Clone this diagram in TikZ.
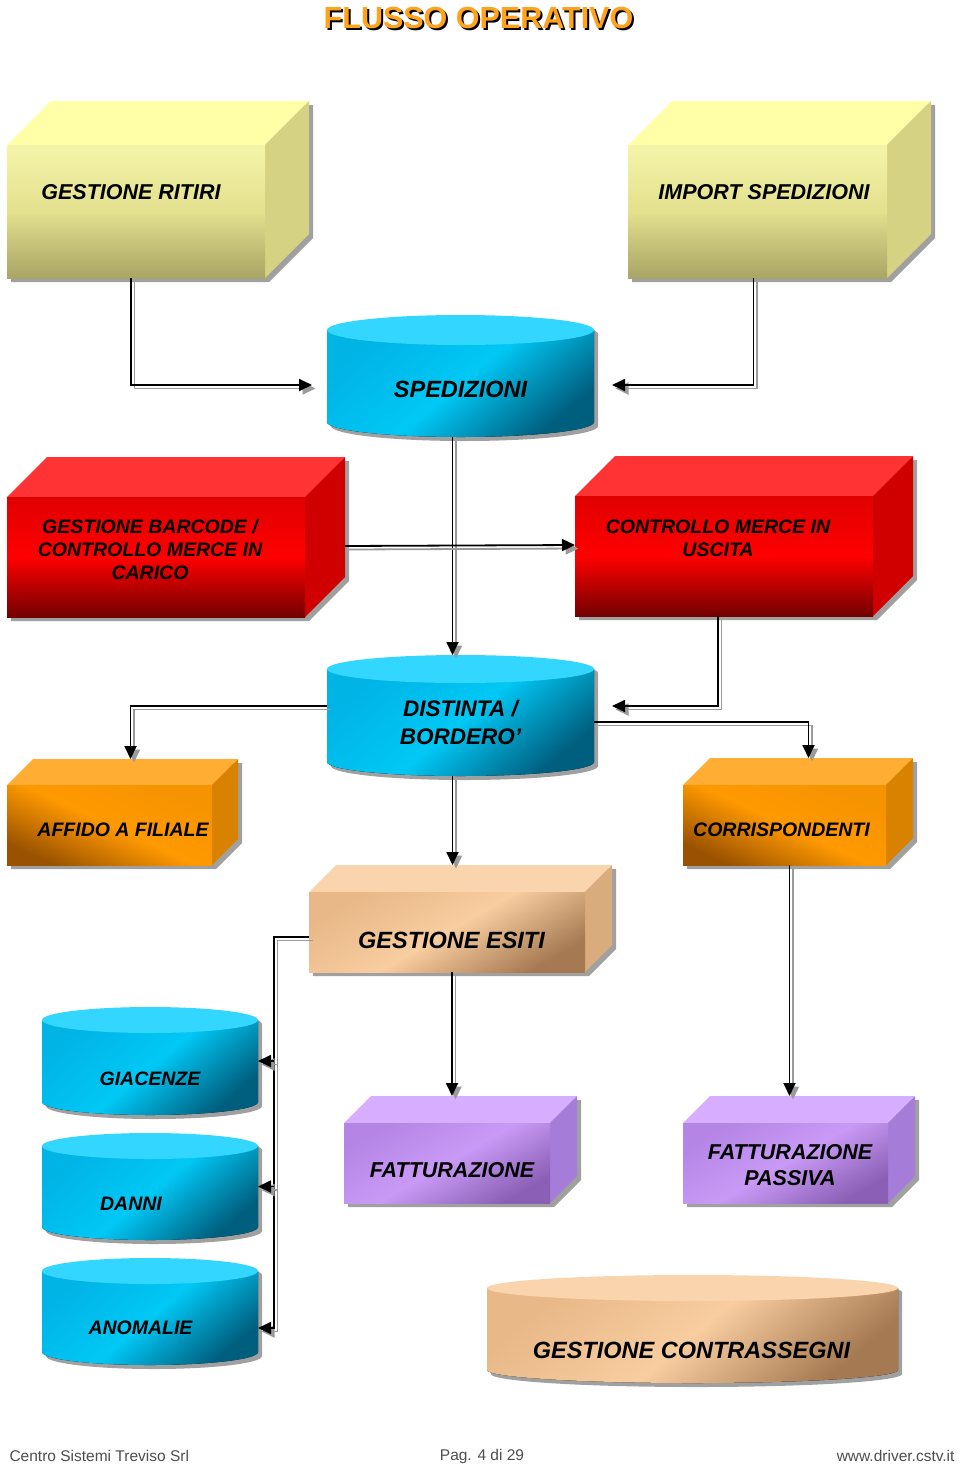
\documentclass[tikz,border=0pt]{standalone}
\usepackage{fontspec}
\setmainfont{Liberation Sans}
\usetikzlibrary{arrows.meta, backgrounds, calc}

\definecolor{yellowtop}{HTML}{FFFFA8}
\definecolor{yellowside}{HTML}{D6D283}
\definecolor{yellowfa}{HTML}{F5F5AA}
\definecolor{yellowfb}{HTML}{E3E08E}
\definecolor{yellowfc}{HTML}{A9A565}
\definecolor{redtop}{HTML}{FF3333}
\definecolor{redside}{HTML}{D00000}
\definecolor{redfa}{HTML}{E00000}
\definecolor{redfb}{HTML}{FF0000}
\definecolor{redfc}{HTML}{720000}
\definecolor{orangetop}{HTML}{FFAD33}
\definecolor{orangeside}{HTML}{D98200}
\definecolor{orangefa}{HTML}{F59300}
\definecolor{orangefb}{HTML}{FF9900}
\definecolor{orangefc}{HTML}{9A5200}
\definecolor{tantop}{HTML}{FAD4AC}
\definecolor{tanside}{HTML}{D9AC7E}
\definecolor{tanfa}{HTML}{E8B888}
\definecolor{tanfb}{HTML}{F8CDA0}
\definecolor{tanfc}{HTML}{A57A52}
\definecolor{violettop}{HTML}{D6ADFF}
\definecolor{violetside}{HTML}{A57DD8}
\definecolor{violetfa}{HTML}{B585E6}
\definecolor{violetfb}{HTML}{C99AF5}
\definecolor{violetfc}{HTML}{8A5FB5}
\definecolor{bluetop}{HTML}{33D6FF}
\definecolor{bluefa}{HTML}{00B4E6}
\definecolor{bluefb}{HTML}{00C8F5}
\definecolor{bluefc}{HTML}{005E7E}
\definecolor{shadowgrey}{HTML}{A0A0A0}
\definecolor{linkgrey}{HTML}{9A9A9A}
\definecolor{titleorange}{HTML}{FFA31A}
\definecolor{footgrey}{HTML}{4D4D4D}

\tikzset{
  block/.style={inner sep=0pt, outer sep=0pt},
  drum/.style={inner sep=0pt, outer sep=0pt},
  yellowfront/.style={top color=yellowfa, bottom color=yellowfc, middle color=yellowfb},
  redfront/.style={top color=redfa, bottom color=redfc, middle color=redfb},
  orangefront/.style={top color=orangefa, bottom color=orangefc, middle color=orangefb, shading angle=-25},
  tanfront/.style={top color=tanfa, bottom color=tanfc, middle color=tanfb, shading angle=30},
  violetfront/.style={top color=violetfa, bottom color=violetfc, middle color=violetfb, shading angle=30},
  bluebody/.style={top color=bluefa, bottom color=bluefc, middle color=bluefb, shading angle=40},
  tanbody/.style={top color=tanfa, bottom color=tanfc, middle color=tanfb, shading angle=40},
  bigtext/.style={font=\bfseries\itshape\fontsize{23.5}{28}\selectfont, align=center},
  midtext/.style={font=\bfseries\itshape\fontsize{21.5}{26}\selectfont, align=center},
  smalltext/.style={font=\bfseries\itshape\fontsize{19.5}{23}\selectfont, align=center},
  headline/.style={font=\bfseries\fontsize{30.5}{36}\selectfont},
  foot/.style={font=\fontsize{15.5}{18}\selectfont, text=footgrey},
  link/.style={line width=1.8pt, -{Triangle[length=13pt, width=12pt]},
    preaction={draw=linkgrey, line width=1.8pt, -{Triangle[length=13pt, width=12pt]},
      transform canvas={shift={(3.5pt,-3.5pt)}}}},
}

% top and side of a box behind its front node
\newcommand{\cubeback}[4]{%
  \begin{scope}[on background layer]
    \fill [shadowgrey, transform canvas={shift={(4pt,-4pt)}}] (#1.north west) -- ++(#2, -#2)
      -- ($(#1.north east) + (#2, -#2)$) -- ($(#1.south east) + (#2, -#2)$)
      -- (#1.south east) -- (#1.south west) -- cycle;
    \fill [#3] (#1.north west) -- ++(#2, -#2) -- ($(#1.north east) + (#2, -#2)$) -- (#1.north east) -- cycle;
    \fill [#4] (#1.north east) -- ++(#2, -#2) -- ($(#1.south east) + (#2, -#2)$) -- (#1.south east) -- cycle;
  \end{scope}
  \coordinate (#1-top) at ($(#1.north) + (#2, -#2)$);
}

% drum drawn round its node
\newcommand{\cylback}[5]{%
  \begin{scope}[on background layer]
    \begin{scope}[transform canvas={shift={(4pt,-4pt)}}]
      \fill [shadowgrey] ($(#1.north west) + (0, #3)$) -- ($(#1.south west) + (0, -#3)$)
        arc[start angle=180, end angle=0, x radius=#2, y radius=#3]
        -- ($(#1.north east) + (0, #3)$) -- cycle;
      \fill [shadowgrey] ($(#1.north) + (0, #3)$) ellipse [x radius=#2, y radius=#3];
    \end{scope}
    \fill [#5] ($(#1.north west) + (0, #3)$) -- ($(#1.south west) + (0, -#3)$)
      arc[start angle=180, end angle=0, x radius=#2, y radius=#3]
      -- ($(#1.north east) + (0, #3)$) -- cycle;
    \fill [#4] ($(#1.north) + (0, #3)$) ellipse [x radius=#2, y radius=#3];
  \end{scope}
}

\begin{document}
\begin{tikzpicture}[x=1pt, y=-1pt]
\useasboundingbox (0, 0) rectangle (960, 1468);
%Title
\node [headline, text=black] (title-shadow) at (480.5, 19.5) {FLUSSO OPERATIVO};
\node [headline, text=titleorange] (title) at (478.5, 17.5) {FLUSSO OPERATIVO};

%Boxes
\node [block, yellowfront, minimum width=258, minimum height=133,
  label={[midtext, xshift=-5, yshift=19.5]center:GESTIONE RITIRI}] (ritiri) at (136, 211.5) {};
\cubeback{ritiri}{44}{yellowtop}{yellowside}
\node [block, yellowfront, minimum width=259, minimum height=133,
  label={[midtext, xshift=6.5, yshift=19.5]center:IMPORT SPEDIZIONI}] (import) at (757.5, 211.5) {};
\cubeback{import}{44}{yellowtop}{yellowside}
\node [block, redfront, minimum width=298, minimum height=120,
  label={[smalltext, xshift=-6, yshift=7]center:{GESTIONE BARCODE /\\CONTROLLO MERCE IN\\CARICO}}] (barcode) at (156, 557) {};
\cubeback{barcode}{40}{redtop}{redside}
\node [block, redfront, minimum width=298, minimum height=120,
  label={[smalltext, xshift=-6, yshift=17.5]center:{CONTROLLO MERCE IN\\USCITA}}] (controllo) at (724, 556) {};
\cubeback{controllo}{40}{redtop}{redside}
\node [block, orangefront, minimum width=205, minimum height=80,
  label={[smalltext, xshift=13.5, yshift=-5]center:AFFIDO A FILIALE}] (affido) at (109.5, 825) {};
\cubeback{affido}{26}{orangetop}{orangeside}
\node [block, orangefront, minimum width=203, minimum height=80,
  label={[smalltext, xshift=-3, yshift=-5]center:CORRISPONDENTI}] (corr) at (784.5, 825) {};
\cubeback{corr}{27}{orangetop}{orangeside}
\node [block, tanfront, minimum width=276, minimum height=80,
  label={[bigtext, xshift=4.5, yshift=-8]center:GESTIONE ESITI}] (esiti) at (447, 932) {};
\cubeback{esiti}{27}{tantop}{tanside}
\node [block, violetfront, minimum width=206, minimum height=80,
  label={[midtext, xshift=5, yshift=-7]center:FATTURAZIONE}] (fatt) at (447, 1163) {};
\cubeback{fatt}{27}{violettop}{violetside}
\node [block, violetfront, minimum width=205, minimum height=80,
  label={[midtext, xshift=4.5, yshift=-2]center:{FATTURAZIONE\\PASSIVA}}] (passiva) at (785.5, 1163) {};
\cubeback{passiva}{27}{violettop}{violetside}

%Drums
\node [drum, minimum width=267, minimum height=122,
  label={[bigtext, yshift=-13]center:SPEDIZIONI}] (sped) at (460.5, 376) {};
\cylback{sped}{133.5}{15}{bluetop}{bluebody}
\node [drum, minimum width=267, minimum height=121,
  label={[bigtext, font=\bfseries\itshape\fontsize{22.5}{28}\selectfont, yshift=-6.5]center:{DISTINTA /\\BORDERO’}}] (dist) at (460.5, 715.5) {};
\cylback{dist}{133.5}{14}{bluetop}{bluebody}
\node [drum, minimum width=216, minimum height=108,
  label={[smalltext, yshift=-18]center:GIACENZE}] (giac) at (150, 1061) {};
\cylback{giac}{108}{13}{bluetop}{bluebody}
\node [drum, minimum width=216, minimum height=107,
  label={[smalltext, xshift=-19, yshift=-17.5]center:DANNI}] (danni) at (150, 1186.5) {};
\cylback{danni}{108}{13}{bluetop}{bluebody}
\node [drum, minimum width=216, minimum height=107,
  label={[smalltext, xshift=-9.5, yshift=-16.5]center:ANOMALIE}] (anom) at (150, 1311.5) {};
\cylback{anom}{108}{13}{bluetop}{bluebody}
\node [drum, minimum width=411, minimum height=108,
  label={[bigtext, xshift=-1, yshift=-21]center:GESTIONE CONTRASSEGNI}] (contr) at (692.5, 1329) {};
\cylback{contr}{205.5}{13}{tantop}{tanbody}

%Connectors
\draw [link] ([xshift=-5]ritiri.south) |- ($(sped.west) + (-15, 9)$);
\draw [link] ([xshift=-4]import.south) |- ($(sped.east) + (18, 9)$);
\coordinate (s-out) at ([xshift=-8]sped.south);
\draw [link] (s-out) -- (s-out |- dist.north);
\draw [link] ($(barcode.east) + (40, -11)$) -- ([yshift=11]controllo.west);
\draw [link] ([xshift=-6]controllo.south) |- ($(dist.east) + (18, -9.5)$);
\draw [link] ($(dist.west) + (0, -9.5)$) -| ([xshift=-5]affido-top);
\draw [link] ($(dist.east) + (0, 6.5)$) -| ([xshift=-3]corr-top);
\coordinate (d-out) at ([xshift=-8]dist.south);
\draw [link] (d-out) -- (d-out |- esiti-top);
\coordinate (bus) at ($(esiti.west) + (-35, 5)$);
\draw [link] ($(esiti.west) + (0, 5)$) -- (bus) |- ($(anom.east) + (0, 16.5)$);
\draw [link] (bus |- giac.east) -- (giac.east);
\draw [link] (bus |- danni.east) -- (danni.east);
\coordinate (e-out) at ([xshift=5]esiti.south);
\draw [link] (e-out) -- (e-out |- fatt-top);
\coordinate (c-out) at ([xshift=5]corr.south);
\draw [link] (c-out) -- (c-out |- passiva-top);

%Footer
\node [foot, anchor=west] (company) at (6, 1456) {Centro Sistemi Treviso Srl};
\node [foot] (page) at (482, 1456) {Pag. 4 di 29};
\node [foot, anchor=east] (site) at (958, 1456) {www.driver.cstv.it};
\end{tikzpicture}
\end{document}
